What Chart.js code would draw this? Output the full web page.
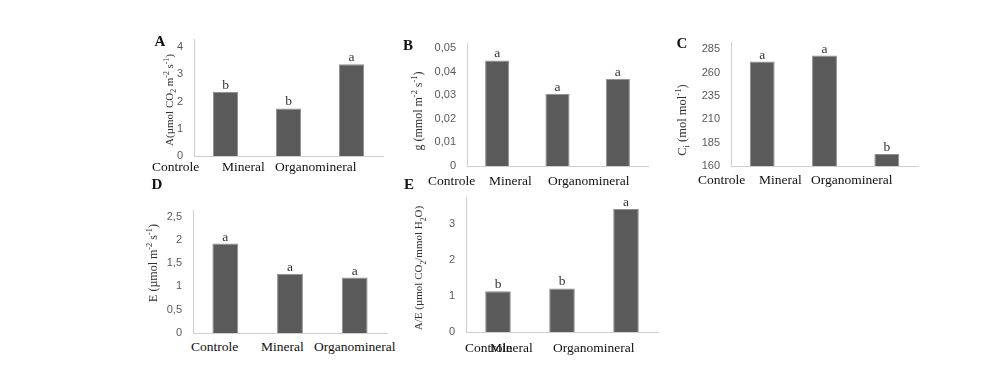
<!DOCTYPE html>
<html>
<head>
<meta charset="utf-8">
<script src="https://cdn.jsdelivr.net/npm/chart.js@4/dist/chart.umd.min.js"></script>
<style>
  html, body { margin: 0; padding: 0; background: #fff; }
  #wrap { position: relative; width: 983px; height: 386px; overflow: hidden; background: #fff; }
  canvas { position: absolute; }
  .cat { position: absolute; font-family: "Liberation Serif", "Times New Roman", serif; font-size: 13.5px; color: #111; white-space: nowrap; transform: translateY(-50%); }
  .ttl { position: absolute; font-family: "Liberation Serif", "Times New Roman", serif; color: #333; white-space: nowrap; transform: translate(-50%, -50%) rotate(-90deg); }
  .ttl sub, .ttl sup { font-size: 70%; }
  .ltr { position: absolute; font-family: "Liberation Serif", "Times New Roman", serif; font-weight: bold; font-size: 15px; color: #111; transform: translate(-50%, -50%); }
</style>
</head>
<body>
<div id="wrap"></div>
<script>
// ---- data ----
const categories = ['Controle', 'Mineral', 'Organomineral'];

const valuesA = [2.36, 1.75, 3.37];
const lettersA = ['b', 'b', 'a'];
const ticksA = [0, 1, 2, 3, 4];

const valuesB = [0.0447, 0.0306, 0.037];
const lettersB = ['a', 'a', 'a'];
const ticksB = [0, 0.01, 0.02, 0.03, 0.04, 0.05];

const valuesC = [272, 278.5, 173];
const lettersC = ['a', 'a', 'b'];
const ticksC = [160, 185, 210, 235, 260, 285];

const valuesD = [1.92, 1.27, 1.19];
const lettersD = ['a', 'a', 'a'];
const ticksD = [0, 0.5, 1, 1.5, 2, 2.5];

const valuesE = [1.13, 1.21, 3.42];
const lettersE = ['b', 'b', 'a'];
const ticksE = [0, 1, 2, 3];

// ---- layout / styling ----
const panels = [
  { id: 'A', values: valuesA, letters: lettersA, ticks: ticksA, min: 0, max: 4.3,
    title: 'A(µmol CO<sub>2</sub> m<sup>-2</sup> s<sup>-1</sup>)', titleSize: 11,
    box: { l: 194, r: 383, t: 39, b: 156 }, titlePos: [170, 100], letterPos: [160, 41],
    catX: [152, 222, 275], catY: 167 },
  { id: 'B', values: valuesB, letters: lettersB, ticks: ticksB, min: 0, max: 0.0521,
    title: 'g (mmol m<sup>-2</sup> s<sup>-1</sup>)', titleSize: 12,
    box: { l: 467, r: 648, t: 43, b: 166 }, titlePos: [418, 111], letterPos: [408, 45],
    catX: [428, 489, 548], catY: 181 },
  { id: 'C', values: valuesC, letters: lettersC, ticks: ticksC, min: 160, max: 293,
    title: 'C<sub>i</sub> (mol mol<sup>-1</sup>)', titleSize: 12.5,
    box: { l: 731, r: 918, t: 42, b: 166 }, titlePos: [682, 120], letterPos: [682, 43],
    catX: [698, 759, 811], catY: 180 },
  { id: 'D', values: valuesD, letters: lettersD, ticks: ticksD, min: 0, max: 2.64,
    title: 'E (µmol m<sup>-2</sup> s<sup>-1</sup>)', titleSize: 12,
    box: { l: 193, r: 387, t: 210, b: 333 }, titlePos: [153, 263], letterPos: [157, 184],
    catX: [191, 261, 314], catY: 347 },
  { id: 'E', values: valuesE, letters: lettersE, ticks: ticksE, min: 0, max: 3.75,
    title: 'A/E (µmol CO<sub>2</sub>/mmol H<sub>2</sub>O)', titleSize: 11,
    box: { l: 466, r: 658, t: 197, b: 332 }, titlePos: [420, 268], letterPos: [409, 184],
    catX: [465, 490, 553], catY: 348 }
];

const wrap = document.getElementById('wrap');

const barLetters = {
  id: 'barLetters',
  afterDatasetsDraw(chart, args, opts) {
    const ctx = chart.ctx;
    const meta = chart.getDatasetMeta(0);
    ctx.save();
    ctx.font = '13.5px "Liberation Serif", "Times New Roman", serif';
    ctx.fillStyle = '#333';
    ctx.textAlign = 'center';
    ctx.textBaseline = 'alphabetic';
    meta.data.forEach((el, i) => {
      ctx.fillText(opts.letters[i], el.x, el.y - 3);
    });
    ctx.restore();
  }
};

function fmt(v) { return String(v).replace('.', ','); }

panels.forEach(p => {
  const padL = 60, padT = 12, padR = 12, padB = 6;
  const cv = document.createElement('canvas');
  const w = p.box.r - p.box.l + padL + padR;
  const h = p.box.b - p.box.t + padT + padB;
  cv.width = w; cv.height = h;
  cv.style.left = (p.box.l - padL) + 'px';
  cv.style.top = (p.box.t - padT) + 'px';
  cv.style.width = w + 'px'; cv.style.height = h + 'px';
  wrap.appendChild(cv);

  new Chart(cv, {
    type: 'bar',
    data: {
      labels: categories,
      datasets: [{
        data: p.values,
        backgroundColor: '#5a5a5a',
        borderColor: '#8f8f8f',
        borderWidth: 1,
        barPercentage: 0.4,
        categoryPercentage: 1
      }]
    },
    options: {
      responsive: false,
      animation: false,
      devicePixelRatio: 1,
      layout: { padding: { left: 0, top: padT, right: padR, bottom: 0 } },
      plugins: { legend: { display: false }, tooltip: { enabled: false }, barLetters: { letters: p.letters } },
      scales: {
        x: {
          grid: { display: false, drawTicks: false },
          border: { display: true, color: '#cfcfcf', width: 1 },
          ticks: { display: false },
          afterFit: s => { s.height = padB; s.paddingLeft = 0; s.paddingRight = 0; }
        },
        y: {
          min: p.min, max: p.max,
          grid: { display: false, drawTicks: false },
          border: { display: true, color: '#cfcfcf', width: 1 },
          ticks: {
            padding: 11,
            color: '#595959',
            font: { family: '"Liberation Sans", Arial, sans-serif', size: 11 },
            callback: v => fmt(v)
          },
          afterBuildTicks: s => { s.ticks = p.ticks.map(v => ({ value: v })); },
          afterFit: s => { s.width = padL; s.paddingTop = 0; s.paddingBottom = 0; }
        }
      }
    },
    plugins: [barLetters]
  });

  // y-axis title
  const t = document.createElement('div');
  t.className = 'ttl';
  t.style.left = p.titlePos[0] + 'px';
  t.style.top = p.titlePos[1] + 'px';
  t.style.fontSize = p.titleSize + 'px';
  t.innerHTML = p.title;
  wrap.appendChild(t);

  // panel letter
  const L = document.createElement('div');
  L.className = 'ltr';
  L.style.left = p.letterPos[0] + 'px';
  L.style.top = p.letterPos[1] + 'px';
  L.textContent = p.id;
  wrap.appendChild(L);

  // category labels
  categories.forEach((c, i) => {
    const d = document.createElement('div');
    d.className = 'cat';
    d.style.left = p.catX[i] + 'px';
    d.style.top = p.catY + 'px';
    d.textContent = c;
    wrap.appendChild(d);
  });
});
</script>
</body>
</html>
